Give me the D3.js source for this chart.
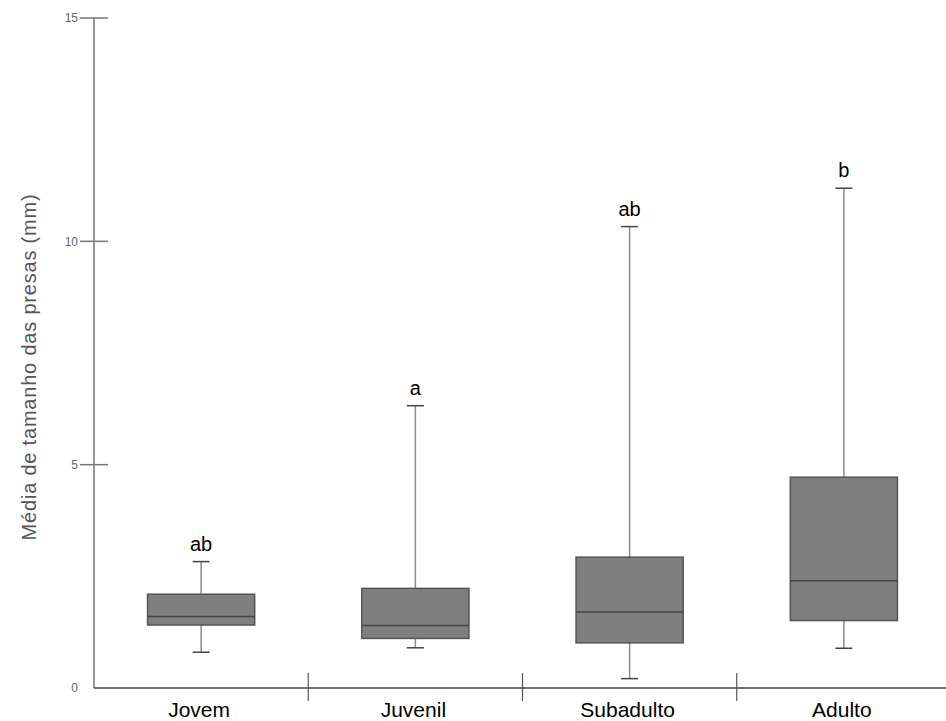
<!DOCTYPE html>
<html>
<head>
<meta charset="utf-8">
<script src="https://cdn.jsdelivr.net/npm/d3@7"></script>
<style>
  html, body { margin: 0; padding: 0; background: #fff; }
  svg { display: block; font-family: "Liberation Sans", Arial, sans-serif; }
</style>
</head>
<body>
<svg id="chart" width="946" height="721"></svg>
<script>
// Prey size by developmental stage
const categories = ["Jovem", "Juvenil", "Subadulto", "Adulto"];
const whiskerLow = [0.80, 0.90, 0.21, 0.89];
const q1 = [1.41, 1.11, 1.01, 1.51];
const median = [1.60, 1.40, 1.70, 2.40];
const q3 = [2.10, 2.23, 2.93, 4.72];
const whiskerHigh = [2.83, 6.32, 10.33, 11.19];
const groupLetters = ["ab", "a", "ab", "b"];
const yTicks = [0, 5, 10, 15];

const svg = d3.select("#chart");
const plotLeft = 94, plotRight = 951, plotTop = 18, plotBottom = 688;

const x = d3.scaleBand().domain(categories).range([plotLeft, plotRight]).padding(0);
const y = d3.scaleLinear().domain([0, 15]).range([plotBottom, plotTop]);

const rows = categories.map((c, i) => ({
  c, lo: whiskerLow[i], q1: q1[i], med: median[i], q3: q3[i], hi: whiskerHigh[i], letter: groupLetters[i]
}));

// y axis: crossing ticks, labels to the left
const yAxis = svg.append("g");
yAxis.append("line")
  .attr("x1", plotLeft).attr("x2", plotLeft).attr("y1", y(15)).attr("y2", y(0))
  .attr("stroke", "#777").attr("stroke-width", 1.5);
yAxis.selectAll("line.tick").data(yTicks.filter(t => t > 0)).join("line")
  .attr("class", "tick")
  .attr("x1", plotLeft - 14).attr("x2", plotLeft + 14)
  .attr("y1", d => y(d)).attr("y2", d => y(d))
  .attr("stroke", "#777").attr("stroke-width", 1.5);
yAxis.selectAll("text").data(yTicks).join("text")
  .attr("x", plotLeft - 16).attr("y", d => y(d)).attr("dy", "0.35em")
  .attr("text-anchor", "end").attr("font-size", 12).attr("fill", "#666")
  .text(d => d);

// x axis: baseline with separators between groups
svg.append("line")
  .attr("x1", plotLeft).attr("x2", 946).attr("y1", plotBottom).attr("y2", plotBottom)
  .attr("stroke", "#444").attr("stroke-width", 1.5);
svg.selectAll("line.sep").data(categories.slice(1)).join("line")
  .attr("class", "sep")
  .attr("x1", d => x(d)).attr("x2", d => x(d))
  .attr("y1", plotBottom - 15).attr("y2", plotBottom + 13)
  .attr("stroke", "#555").attr("stroke-width", 1.2);
svg.selectAll("text.cat").data(categories).join("text")
  .attr("class", "cat")
  .attr("x", d => x(d) + x.bandwidth() / 2 - 2).attr("y", 717)
  .attr("text-anchor", "middle").attr("font-size", 21).attr("fill", "#000")
  .text(d => d);

// y axis title
svg.append("text")
  .attr("transform", `translate(36, ${367}) rotate(-90)`)
  .attr("text-anchor", "middle").attr("font-size", 20).attr("letter-spacing", 0.8)
  .attr("fill", "#555")
  .text("Média de tamanho das presas (mm)");

// boxes
const boxW = x.bandwidth() / 2;
const capW = 17;
const g = svg.selectAll("g.box").data(rows).join("g").attr("class", "box")
  .attr("transform", d => `translate(${x(d.c) + x.bandwidth() / 2},0)`);

g.append("line")
  .attr("x1", 0).attr("x2", 0).attr("y1", d => y(d.hi)).attr("y2", d => y(d.q3))
  .attr("stroke", "#8c8c8c").attr("stroke-width", 1.5);
g.append("line")
  .attr("x1", 0).attr("x2", 0).attr("y1", d => y(d.q1)).attr("y2", d => y(d.lo))
  .attr("stroke", "#8c8c8c").attr("stroke-width", 1.5);
g.append("line")
  .attr("x1", -capW / 2).attr("x2", capW / 2).attr("y1", d => y(d.hi)).attr("y2", d => y(d.hi))
  .attr("stroke", "#444").attr("stroke-width", 1.5);
g.append("line")
  .attr("x1", -capW / 2).attr("x2", capW / 2).attr("y1", d => y(d.lo)).attr("y2", d => y(d.lo))
  .attr("stroke", "#444").attr("stroke-width", 1.5);
g.append("rect")
  .attr("x", -boxW / 2).attr("width", boxW)
  .attr("y", d => y(d.q3)).attr("height", d => y(d.q1) - y(d.q3))
  .attr("fill", "#7f7f7f").attr("stroke", "#555").attr("stroke-width", 1.5);
g.append("line")
  .attr("x1", -boxW / 2).attr("x2", boxW / 2).attr("y1", d => y(d.med)).attr("y2", d => y(d.med))
  .attr("stroke", "#444").attr("stroke-width", 1.5);
g.append("text")
  .attr("x", 0).attr("y", d => y(d.hi) - 11)
  .attr("text-anchor", "middle").attr("font-size", 20).attr("fill", "#000")
  .text(d => d.letter);
</script>
</body>
</html>
